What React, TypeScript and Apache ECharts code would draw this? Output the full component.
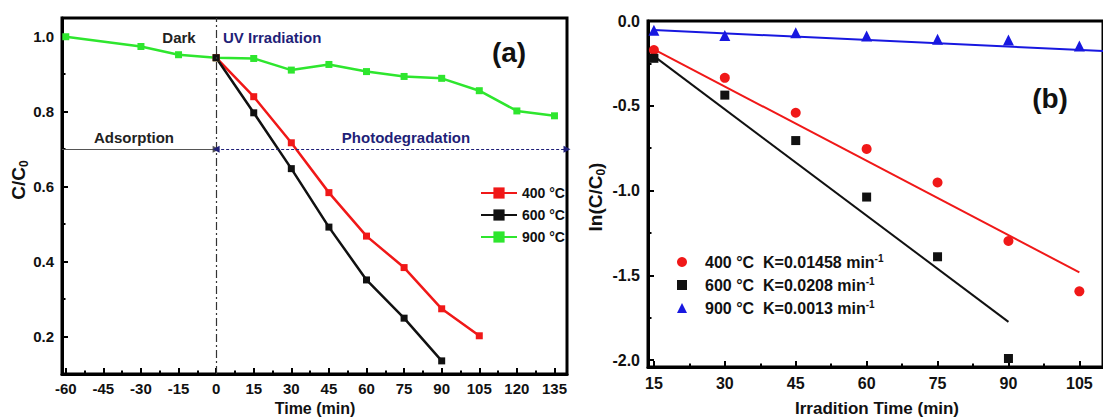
import React, { useEffect, useRef } from 'react';
import * as echarts from 'echarts';

const FONT = '"Liberation Sans", Arial, sans-serif';

// ---------- Panel (a): C/C0 vs time ----------
const TIME_TICKS_A = [-60, -45, -30, -15, 0, 15, 30, 45, 60, 75, 90, 105, 120, 135];
const TIME_MINOR_A = [-52.5, -37.5, -22.5, -7.5, 7.5, 22.5, 37.5, 52.5, 67.5, 82.5, 97.5, 112.5, 127.5];
const C_TICKS_A = [0.2, 0.4, 0.6, 0.8, 1.0];
const C_MINOR_A = [0.3, 0.5, 0.7, 0.9];

const T400_A = [0, 15, 30, 45, 60, 75, 90, 105];
const C400_A = [0.944, 0.84, 0.717, 0.584, 0.468, 0.384, 0.274, 0.202];
const T600_A = [0, 15, 30, 45, 60, 75, 90];
const C600_A = [0.944, 0.797, 0.648, 0.492, 0.351, 0.249, 0.135];
const T900_A = [-60, -30, -15, 0, 15, 30, 45, 60, 75, 90, 105, 120, 135];
const C900_A = [1.0, 0.974, 0.952, 0.944, 0.942, 0.911, 0.926, 0.907, 0.894, 0.889, 0.856, 0.802, 0.789];
const NAMES_A = ['400 °C', '600 °C', '900 °C'];

const X_MIN_A = -61.5;
const X_MAX_A = 140;
const Y_MIN_A = 0.1;
const Y_MAX_A = 1.05;
const PHASE_SWITCH = 0; // dark -> UV
const ARROW_LEVEL = 0.7;

// ---------- Panel (b): ln(C/C0) vs irradiation time ----------
const TIME_TICKS_B = [15, 30, 45, 60, 75, 90, 105];
const TIME_MINOR_B = [22.5, 37.5, 52.5, 67.5, 82.5, 97.5];
const LN_TICKS_B = [0, -0.5, -1.0, -1.5, -2.0];
const LN_MINOR_B = [-0.25, -0.75, -1.25, -1.75];

const T400_B = [15, 30, 45, 60, 75, 90, 105];
const LN400_B = [-0.171, -0.335, -0.541, -0.754, -0.952, -1.297, -1.594];
const T600_B = [15, 30, 45, 60, 75, 90];
const LN600_B = [-0.22, -0.437, -0.705, -1.038, -1.39, -1.99];
const T900_B = [15, 30, 45, 60, 75, 90, 105];
const LN900_B = [-0.055, -0.085, -0.069, -0.089, -0.108, -0.112, -0.148];

const FIT400_T = [15, 105];
const FIT400_LN = [-0.167, -1.482];
const FIT600_T = [15, 90];
const FIT600_LN = [-0.207, -1.774];
const FIT900_T = [15, 110];
const FIT900_LN = [-0.053, -0.177];

const TEMPS_B = ['400', '600', '900'];
const K_B = ['0.01458', '0.0208', '0.0013'];
const NAMES_B = ['b400', 'b600', 'b900'];

const X_MIN_B = 13.75;
const X_MAX_B = 110;
const Y_MIN_B = -2.04;
const Y_MAX_B = 0;

const RED = '#f01818';
const BLACK = '#111111';
const GREEN = '#2ee62e';
const BLUE = '#1818e0';
const NAVY = '#1f1f78';

const pairs = (xs: number[], ys: number[]) => xs.map((x, i) => [x, ys[i]]);

function mainAxis(gridIndex: number, min: number, max: number, ticks: number[], fontSize: number, margin: number, fmt?: (v: number) => string) {
  return {
    type: 'value',
    gridIndex,
    min,
    max,
    axisLine: { show: true, onZero: false, lineStyle: { color: '#000', width: 3 } },
    axisTick: { show: true, inside: true, length: 6, customValues: ticks, lineStyle: { color: '#000', width: 2 } },
    axisLabel: {
      show: true,
      customValues: ticks,
      margin,
      color: '#111',
      fontSize,
      fontWeight: 'bold',
      fontFamily: FONT,
      formatter: fmt,
    },
    splitLine: { show: false },
  };
}

function minorAxis(gridIndex: number, min: number, max: number, ticks: number[], position: string) {
  return {
    type: 'value',
    gridIndex,
    min,
    max,
    position,
    axisLine: { show: false, onZero: false },
    axisTick: { show: true, inside: true, length: 3.5, customValues: ticks, lineStyle: { color: '#000', width: 2 } },
    axisLabel: { show: false },
    splitLine: { show: false },
  };
}

export default function App() {
  const ref = useRef<HTMLDivElement>(null);

  useEffect(() => {
    if (!ref.current) return;
    const chart = echarts.init(ref.current, null, { renderer: 'svg' });

    const fmt1 = (v: number) => v.toFixed(1);
    const xA = { ...mainAxis(0, X_MIN_A, X_MAX_A, TIME_TICKS_A, 15, 7), position: 'bottom' };
    const xAm = minorAxis(0, X_MIN_A, X_MAX_A, TIME_MINOR_A, 'bottom');
    const yA = { ...mainAxis(0, Y_MIN_A, Y_MAX_A, C_TICKS_A, 15, 8, fmt1), position: 'left' };
    const yAm = minorAxis(0, Y_MIN_A, Y_MAX_A, C_MINOR_A, 'left');
    const xB = { ...mainAxis(1, X_MIN_B, X_MAX_B, TIME_TICKS_B, 16, 8), position: 'bottom' };
    const xBm = minorAxis(1, X_MIN_B, X_MAX_B, TIME_MINOR_B, 'bottom');
    const yB = { ...mainAxis(1, Y_MIN_B, Y_MAX_B, LN_TICKS_B, 16, 8, fmt1), position: 'left' };
    const yBm = minorAxis(1, Y_MIN_B, Y_MAX_B, LN_MINOR_B, 'left');

    const lineA = (name: string, xs: number[], ys: number[], color: string) => ({
      name,
      type: 'line',
      xAxisIndex: 0,
      yAxisIndex: 0,
      data: pairs(xs, ys),
      symbol: 'rect',
      symbolSize: 7,
      showSymbol: true,
      itemStyle: { color },
      lineStyle: { color, width: 2.5 },
      z: 3,
    });

    const scatterB = (name: string, xs: number[], ys: number[], color: string, symbol: string, size: number) => ({
      name,
      type: 'scatter',
      xAxisIndex: 2,
      yAxisIndex: 2,
      data: pairs(xs, ys),
      symbol,
      symbolSize: size,
      itemStyle: { color, opacity: 1 },
      z: 3,
    });

    const fitB = (name: string, xs: number[], ys: number[], color: string) => ({
      name,
      type: 'line',
      xAxisIndex: 2,
      yAxisIndex: 2,
      data: pairs(xs, ys),
      symbol: 'none',
      showSymbol: false,
      lineStyle: { color, width: 2 },
      itemStyle: { color },
      z: 4,
    });

    const axisTitleRich = {
      m: { fontSize: 19, fontWeight: 'bold', fontFamily: FONT, fill: '#111', lineHeight: 24 },
      sub: { fontSize: 12, fontWeight: 'bold', fontFamily: FONT, fill: '#111', lineHeight: 12, verticalAlign: 'bottom' },
    };

    const txt = (text: string, x: number, y: number, size: number, fill: string, align = 'center') => ({
      type: 'text',
      x,
      y,
      silent: true,
      style: {
        text,
        fontSize: size,
        fontWeight: 'bold',
        fontFamily: FONT,
        fill,
        align,
        verticalAlign: 'middle',
      },
    });

    const option: any = {
      animation: false,
      backgroundColor: '#ffffff',
      grid: [
        { left: 62, top: 18, right: 536, bottom: 43, show: true, borderColor: '#000', borderWidth: 3, backgroundColor: 'transparent' },
        { left: 648, top: 21, right: -8, bottom: 50, show: true, borderColor: '#000', borderWidth: 3, backgroundColor: 'transparent' },
      ],
      xAxis: [xA, xAm, xB, xBm],
      yAxis: [yA, yAm, yB, yBm],
      legend: [
        {
          data: NAMES_A,
          orient: 'vertical',
          left: 475,
          top: 181,
          itemWidth: 36,
          itemHeight: 14,
          itemGap: 8,
          selectedMode: false,
          textStyle: { fontSize: 14, fontWeight: 'bold', fontFamily: FONT, color: '#111' },
        },
        {
          data: NAMES_B,
          orient: 'vertical',
          left: 672,
          top: 248,
          itemWidth: 10,
          itemHeight: 10,
          itemGap: 6,
          selectedMode: false,
          formatter: (name: string) => {
            const i = NAMES_B.indexOf(name);
            return `{t|${TEMPS_B[i]} °C  K=${K_B[i]} min}{s|-1}`;
          },
          textStyle: {
            rich: {
              t: { fontSize: 16, fontWeight: 'bold', fontFamily: FONT, color: '#111', lineHeight: 18, padding: [0, 0, 0, 13] },
              s: { fontSize: 10, fontWeight: 'bold', fontFamily: FONT, color: '#111', lineHeight: 10, verticalAlign: 'top' },
            },
          },
        },
      ],
      series: [
        lineA(NAMES_A[2], T900_A, C900_A, GREEN),
        lineA(NAMES_A[0], T400_A, C400_A, RED),
        {
          ...lineA(NAMES_A[1], T600_A, C600_A, BLACK),
          markLine: {
            silent: true,
            symbol: ['none', 'none'],
            symbolSize: 7,
            label: { show: false },
            emphasis: { disabled: true },
            data: [
              {
                xAxis: PHASE_SWITCH,
                lineStyle: { color: '#333', width: 1.2, type: [8, 3, 2, 3] },
              },
              [
                { coord: [X_MIN_A, ARROW_LEVEL], symbol: 'none', lineStyle: { color: '#555', width: 1, type: 'solid' } },
                { coord: [PHASE_SWITCH, ARROW_LEVEL], symbol: 'triangle' },
              ],
              [
                { coord: [PHASE_SWITCH, ARROW_LEVEL], symbol: 'triangle', lineStyle: { color: NAVY, width: 1, type: [3, 2] } },
                { coord: [X_MAX_A, ARROW_LEVEL], symbol: 'triangle' },
              ],
            ],
          },
        },
        scatterB(NAMES_B[0], T400_B, LN400_B, RED, 'circle', 10),
        scatterB(NAMES_B[1], T600_B, LN600_B, BLACK, 'rect', 9),
        scatterB(NAMES_B[2], T900_B, LN900_B, BLUE, 'triangle', 11),
        fitB('fit400', FIT400_T, FIT400_LN, RED),
        fitB('fit600', FIT600_T, FIT600_LN, BLACK),
        fitB('fit900', FIT900_T, FIT900_LN, BLUE),
      ],
      graphic: [
        txt('Dark', 179, 37, 15, '#222'),
        txt('UV Irradiation', 223, 37, 15, NAVY, 'left'),
        txt('Adsorption', 134, 137, 15, '#222'),
        txt('Photodegradation', 406, 137, 15, NAVY),
        txt('(a)', 509, 52, 28, '#111'),
        txt('(b)', 1050, 98, 28, '#111'),
        txt('Time (min)', 315, 408, 16, '#111'),
        txt('Irradition Time (min)', 877, 408, 17, '#111'),
        {
          type: 'text',
          x: 18,
          y: 180,
          rotation: Math.PI / 2,
          silent: true,
          style: { text: '{m|C/C}{sub|0}', rich: axisTitleRich, align: 'center', verticalAlign: 'middle' },
        },
        {
          type: 'text',
          x: 595,
          y: 197,
          rotation: Math.PI / 2,
          silent: true,
          style: { text: '{m|ln(C/C}{sub|0}{m|)}', rich: axisTitleRich, align: 'center', verticalAlign: 'middle' },
        },
      ],
    };

    chart.setOption(option);
    return () => chart.dispose();
  }, []);

  return (
    <div
      ref={ref}
      style={{ position: 'fixed', left: 0, top: 0, width: 1103, height: 417, background: '#fff' }}
    />
  );
}
